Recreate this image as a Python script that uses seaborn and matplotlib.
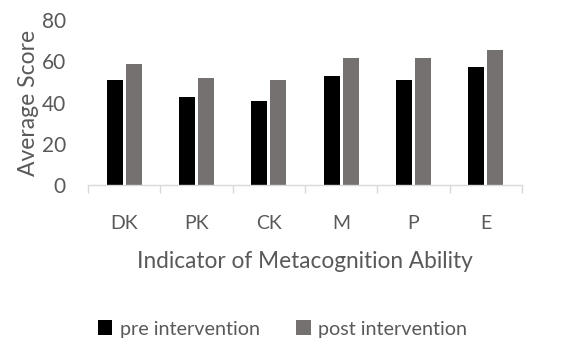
import matplotlib
matplotlib.use("Agg")
import matplotlib.pyplot as plt
import seaborn as sns
import pandas as pd
from matplotlib.ticker import FixedLocator
from matplotlib.patches import Patch

# Average scores per metacognition indicator
indicators = ["DK", "PK", "CK", "M", "P", "E"]
pre_scores = [51, 43, 41, 53, 51, 57.5]
post_scores = [58.5, 52, 51, 61.5, 61.5, 65.5]
series_names = ["pre intervention", "post intervention"]
y_ticks = [0, 20, 40, 60, 80]

df = pd.DataFrame({
    "Indicator": indicators * 2,
    "Score": pre_scores + post_scores,
    "Phase": [series_names[0]] * len(indicators) + [series_names[1]] * len(indicators),
})

sns.set_theme(style="white")
plt.rcParams["font.family"] = ["Lato", "DejaVu Sans"]

text_color = "#595959"
colors = {series_names[0]: "#000000", series_names[1]: "#767171"}

fig = plt.figure(figsize=(5.65, 3.4), dpi=100)
ax = fig.add_axes([88 / 565, 1 - 185.5 / 340, (522 - 88) / 565, (185.5 - 20) / 340])

sns.barplot(data=df, x="Indicator", y="Score", hue="Phase", order=indicators,
            hue_order=series_names, palette=colors, width=0.52, gap=0.15,
            saturation=1, legend=False, ax=ax, edgecolor="none")

ax.set_xlim(-0.5, len(indicators) - 0.5)
ax.set_ylim(0, 80)
ax.set_yticks(y_ticks)
ax.tick_params(axis="y", length=0, labelsize=15, labelcolor=text_color, pad=16)
ax.tick_params(axis="x", which="major", length=0, labelsize=14, labelcolor=text_color, pad=21)
ax.xaxis.set_minor_locator(FixedLocator([i - 0.5 for i in range(len(indicators) + 1)]))
ax.tick_params(axis="x", which="minor", length=6, width=1, color="#D9D9D9", bottom=True)

for side in ["top", "right", "left"]:
    ax.spines[side].set_visible(False)
ax.spines["bottom"].set_color("#D9D9D9")
ax.spines["bottom"].set_linewidth(1)

ax.set_xlabel("Indicator of Metacognition Ability", fontsize=16.3, color=text_color, labelpad=14)
ax.set_ylabel("Average Score", fontsize=16.5, color=text_color, labelpad=2)

handles = [Patch(facecolor=colors[n], edgecolor="none", label=n) for n in series_names]
fig.legend(handles=handles, loc="center", bbox_to_anchor=(0.5, 1 - 329 / 340), ncol=2,
           frameon=False, fontsize=14.2, labelcolor=text_color, handlelength=0.75,
           handleheight=0.75, handletextpad=0.4, columnspacing=1.8)

fig.savefig("out.png", dpi=100)
